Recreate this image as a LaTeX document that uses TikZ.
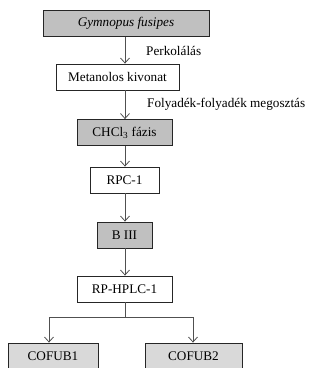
\documentclass[tikz,border=0pt]{standalone}
\usepackage{fontspec}
\setmainfont{Liberation Serif}
\usetikzlibrary{arrows.meta}
\definecolor{boxgray}{HTML}{C0C0C0}
\definecolor{boxlight}{HTML}{D9D9D9}
\definecolor{linegray}{HTML}{505050}
\begin{document}
\begin{tikzpicture}[x=1pt,y=-1pt,
  box/.style={draw=black!85, line width=0.8pt, minimum height=26pt, inner sep=0pt, font=\fontsize{13.2}{15}\selectfont},
  gbox/.style={box, fill=boxgray},
  lbox/.style={box, fill=boxlight},
  wbox/.style={box, fill=white},
  arr/.style={draw=linegray, line width=0.8pt, -{Straight Barb[length=5pt,width=9pt]}},
  con/.style={draw=linegray, line width=0.8pt},
  lab/.style={anchor=west, inner sep=0pt, font=\fontsize{13.2}{15}\selectfont}]
\useasboundingbox (0,0) rectangle (323,368);
\node[gbox, minimum width=166pt] (g) at (126,23.5) {\itshape Gymnopus fusipes};
\node[wbox, minimum width=123pt] (m) at (117.5,77) {Metanolos kivonat};
\node[gbox, minimum width=95pt] (c) at (124.5,132.5) {CHCl\textsubscript{3} fázis};
\node[wbox, minimum width=69pt] (r) at (124.5,180) {RPC-1};
\node[gbox, minimum width=55pt] (b) at (124.5,235) {B III};
\node[wbox, minimum width=95pt] (h) at (124.5,289) {RP-HPLC-1};
\node[lbox, minimum width=90pt] (f1) at (53,356) {COFUB1};
\node[lbox, minimum width=97pt] (f2) at (193.5,356) {COFUB2};
\coordinate (col) at (125,0);
\draw[arr] (col |- g.south) -- (col |- m.north);
\draw[arr] (col |- m.south) -- (col |- c.north);
\draw[arr] (col |- c.south) -- (col |- r.north);
\draw[arr] (col |- r.south) -- (col |- b.north);
\draw[arr] (col |- b.south) -- (col |- h.north);
\coordinate (split) at (125,317);
\coordinate (sl) at (49,317);
\coordinate (sr) at (193,317);
\draw[con] (col |- h.south) -- (split);
\draw[con] (sl) -- (sr);
\draw[arr] (sl) -- (sl |- f1.north);
\draw[arr] (sr) -- (sr |- f2.north);
\node[lab] (l1) at (146,51) {Perkolálás};
\node[lab] (l2) at (147,104) {Folyadék-folyadék megosztás};
\end{tikzpicture}
\end{document}
